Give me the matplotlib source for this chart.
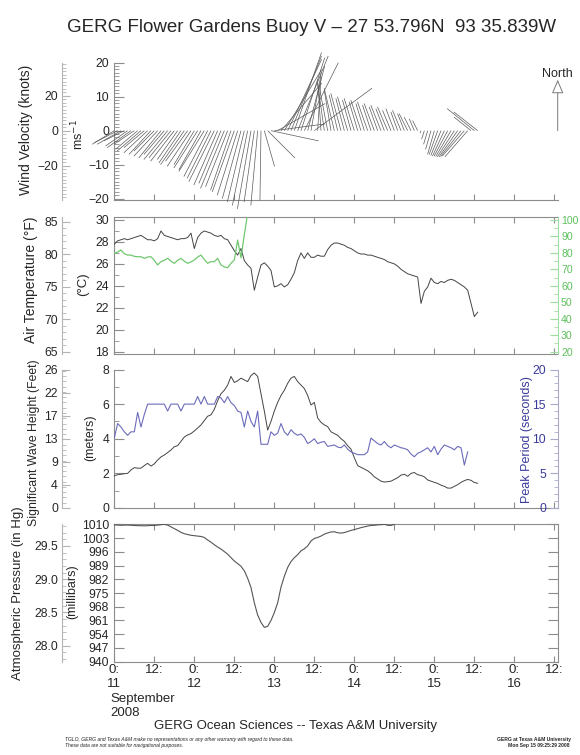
import numpy as np
import matplotlib
matplotlib.use("Agg")
import matplotlib.pyplot as plt
from matplotlib.collections import LineCollection
from matplotlib.ticker import MultipleLocator, FixedLocator, FixedFormatter, FormatStrFormatter

plt.rcParams['font.family'] = ['Liberation Sans', 'DejaVu Sans']

# ---------------- data (hours after 2008-09-11 00:00) ----------------
wind_hours = np.arange(0, 110)
wind_u = [
    -6.5, -6.8, -7.0, -6.0, -6.5, -7.0, -6.0, -6.5, -7.0, -6.0,
    -7.0, -6.5, -6.0, -7.0, -6.5, -6.0, -7.0, -6.5, -7.0, -6.0,
    -6.5, -7.0, -6.5, -7.0, -6.0, -7.0, -6.5, -7.5, -7.0, -7.0,
    -7.5, -7.0, -6.5, -7.0, -6.5, -6.0, -6.5, -6.0, -5.5, -5.0,
    -4.5, -4.0, -3.0, -2.0, -0.3, 3.0, 8.0, 14.0, 15.0, 14.0,
    12.0, 11.0, 10.0, 9.0, 8.0, 9.0, 7.0, 10.0, 5.0, 3.0,
    17.0, 1.0, -1.0, -2.0, -2.5, -2.0, -3.0, -2.5, -3.0, -2.5,
    -3.0, -2.5, -3.0, -2.5, -3.0, -2.5, -3.0, -2.5, -3.0, -2.5,
    -3.0, -2.5, -3.0, -2.5, -2.5, -2.0, -2.5, -2.0, -2.5, -2.0,
    -1.5, -1.5, -0.3, -0.8, -1.2, -1.6, -2.0, -2.5, -3.0, -3.5,
    -4.0, -4.5, -5.0, -5.5, -6.0, -6.5, -6.7, -5.0, -8.0, -7.0,
]
wind_v = [
    -4.0, -3.5, -4.0, -3.0, -4.5, -5.0, -4.0, -5.5, -6.0, -5.0,
    -6.5, -7.0, -6.0, -7.5, -8.0, -7.0, -8.5, -8.0, -9.0, -8.5,
    -9.5, -10.0, -9.0, -10.5, -10.0, -11.0, -11.5, -12.0, -13.5, -14.0,
    -15.0, -16.0, -15.5, -17.0, -16.5, -17.5, -18.0, -19.0, -20.0, -21.0,
    -22.0, -23.0, -21.0, -22.0, -20.5, -10.5, -8.0, -3.0, 2.0, 8.0,
    14.0, 18.0, 21.0, 22.0, 23.0, 22.0, 21.5, 20.0, 19.0, 17.0,
    12.5, 16.0, 15.0, 14.0, 13.0, 12.0, 12.5, 10.5, 11.0, 9.5,
    10.0, 9.0, 9.5, 8.5, 9.0, 8.0, 8.5, 7.5, 8.0, 7.0,
    7.5, 6.5, 7.0, 6.0, 6.5, 5.5, 6.0, 5.0, 5.0, 4.0,
    3.5, 3.0, -0.7, -2.5, -4.0, -5.5, -7.0, -7.0, -7.3, -7.5,
    -7.5, -7.6, -7.7, -7.7, -7.6, -7.5, -7.7, 4.0, 6.5, 5.5,
]

temp_hours = np.arange(0, 110)
air_temp_c = [
    27.8, 28.1, 28.2, 28.3, 28.2, 28.3, 28.4, 28.5, 28.6, 28.4,
    28.2, 28.2, 28.1, 28.3, 29.0, 28.6, 28.5, 28.4, 28.3, 28.2,
    28.3, 28.3, 28.4, 28.8, 27.4, 28.4, 28.8, 29.0, 28.9, 28.8,
    28.6, 28.5, 28.6, 28.3, 28.2, 27.7, 27.2, 26.8, 27.4, 26.3,
    25.9, 25.6, 23.6, 24.8, 25.9, 26.1, 25.8, 25.4, 23.9, 24.0,
    24.2, 23.9, 24.1, 24.6, 25.2, 26.3, 27.0, 26.5, 27.0, 26.6,
    26.6, 26.8, 26.7, 26.7, 27.3, 27.7, 27.9, 27.9, 27.8, 27.7,
    27.5, 27.4, 27.2, 27.0, 26.9, 26.9, 26.8, 26.8, 26.7, 26.6,
    26.5, 26.4, 26.2, 26.1, 26.0, 25.8, 25.5, 25.3, 25.1, 25.0,
    24.9, 24.8, 22.4, 23.5, 23.9, 24.7, 24.3, 24.2, 24.4, 24.3,
    24.5, 24.6, 24.5, 24.3, 24.1, 23.9, 23.6, 22.4, 21.2, 21.6,
]

rh_hours = np.arange(0, 41)
rel_humidity = [
    79.8, 80.5, 81.8, 79.5, 78.7, 78.7, 77.9, 77.7, 77.7, 76.7,
    77.5, 77.7, 75.5, 72.7, 74.7, 75.5, 76.7, 75.0, 73.7, 75.5,
    76.7, 75.0, 73.7, 74.5, 75.7, 77.5, 78.7, 76.0, 73.7, 74.7,
    74.7, 76.7, 72.7, 71.5, 71.0, 73.7, 75.7, 87.8, 77.0, 91.0,
    104.0,
]

wave_hours = np.arange(0, 110)
wave_height_m = [
    1.87, 1.92, 1.95, 1.98, 2.00, 2.20, 2.33, 2.30, 2.30, 2.45,
    2.58, 2.42, 2.55, 2.77, 2.95, 3.06, 3.20, 3.35, 3.54, 3.60,
    3.85, 4.10, 4.22, 4.30, 4.45, 4.62, 4.80, 5.05, 5.30, 5.38,
    5.70, 6.20, 6.60, 6.80, 7.10, 7.60, 7.25, 7.35, 7.50, 7.40,
    7.30, 7.65, 7.80, 7.60, 6.60, 5.60, 4.50, 5.00, 5.60, 6.10,
    6.50, 6.80, 7.20, 7.50, 7.60, 7.30, 7.10, 6.90, 6.50, 5.95,
    6.10, 5.20, 4.95, 4.80, 4.70, 4.40, 4.30, 4.20, 4.00, 3.85,
    3.60, 3.40, 2.90, 2.45, 2.35, 2.25, 2.15, 2.00, 1.80, 1.68,
    1.55, 1.50, 1.52, 1.55, 1.65, 1.75, 1.90, 1.95, 1.83, 2.00,
    2.05, 1.92, 1.88, 1.80, 1.62, 1.55, 1.48, 1.42, 1.32, 1.25,
    1.15, 1.15, 1.25, 1.35, 1.48, 1.58, 1.65, 1.60, 1.47, 1.43,
]

period_hours = np.arange(0, 107)
peak_period_s = [
    10.1, 12.2, 11.7, 11.0, 10.5, 11.0, 11.0, 13.8, 11.7, 13.5,
    15.0, 15.0, 15.0, 15.0, 15.0, 15.0, 14.0, 15.0, 15.0, 15.0,
    14.0, 15.0, 15.0, 15.0, 15.0, 16.1, 15.0, 16.1, 15.0, 15.0,
    15.0, 16.1, 15.9, 15.2, 16.1, 15.2, 14.8, 14.0, 13.8, 11.7,
    14.0, 12.5, 11.7, 14.0, 9.2, 9.2, 9.2, 11.0, 10.5, 10.8,
    12.2, 11.0, 10.5, 11.3, 10.8, 10.5, 10.7, 10.2, 9.3, 9.6,
    10.0, 9.3, 9.5, 9.6, 8.9, 9.0, 9.1, 8.8, 8.7, 9.1,
    8.5, 8.1, 7.9, 7.7, 7.7, 7.7, 8.1, 10.1, 9.7, 9.3,
    9.1, 9.6, 9.0, 8.7, 9.1, 8.9, 8.7, 8.6, 8.4, 7.8,
    7.4, 7.9, 8.1, 8.4, 8.7, 8.1, 8.9, 7.7, 8.5, 9.1,
    8.9, 8.7, 8.4, 8.9, 8.7, 6.2, 8.1,
]

pres_hours = np.arange(0, 85)
pressure_mb = [
    1009.7, 1009.6, 1009.5, 1009.6, 1009.6, 1009.5, 1009.4, 1009.3, 1009.3, 1009.2,
    1009.3, 1009.4, 1009.4, 1009.6, 1009.8, 1010.0, 1009.6, 1008.7, 1007.8, 1006.9,
    1005.9, 1005.2, 1004.8, 1004.4, 1004.2, 1004.0, 1003.8, 1003.3, 1002.0, 1000.9,
    999.6, 998.4, 997.4, 996.1, 994.8, 993.0, 991.3, 990.0, 988.6, 986.3,
    982.5, 977.8, 970.0, 963.8, 960.0, 957.5, 958.0, 961.0, 965.0, 970.0,
    978.0, 983.5, 988.0, 991.0, 993.0, 994.5, 996.5, 997.5, 999.0, 1001.5,
    1002.8, 1003.3, 1004.0, 1005.0, 1005.6, 1006.1, 1006.2, 1005.7, 1005.5, 1005.8,
    1006.3, 1006.9, 1007.3, 1007.8, 1008.3, 1008.7, 1009.1, 1009.4, 1009.5, 1009.7,
    1009.8, 1010.0, 1009.5, 1009.4, 1010.0,
]

xtick_hours = [0, 12, 24, 36, 48, 60, 72, 84, 96, 108, 120, 132]
xtick_labels = ['0:\n11', '12:', '0:\n12', '12:', '0:\n13', '12:',
                '0:\n14', '12:', '0:\n15', '12:', '0:\n16', '12:']
wind_ms_ticks = [-20, -10, 0, 10, 20]
wind_kt_ticks = [-20, 0, 20]
temp_c_ticks = [18, 20, 22, 24, 26, 28, 30]
temp_f_ticks = [65, 70, 75, 80, 85]
rh_ticks = [20, 30, 40, 50, 60, 70, 80, 90, 100]
wave_m_ticks = [0, 2, 4, 6, 8]
wave_ft_labels = ['0', '4', '9', '13', '17', '22', '26']
period_ticks = [0, 5, 10, 15, 20]
pres_mb_ticks = [940, 947, 954, 961, 968, 975, 982, 989, 996, 1003, 1010]
pres_in_ticks = [28.0, 28.5, 29.0, 29.5]

# ---------------- layout ----------------
W, H = 580.0, 755.0
fig = plt.figure(figsize=(W / 100, H / 100), dpi=100)


def rect(x0, y0, x1, y1):
    return [x0 / W, 1 - y1 / H, (x1 - x0) / W, (y1 - y0) / H]


def ftext(x, y, s, **kw):
    kw.setdefault('color', TXT)
    fig.text(x / W, 1 - y / H, s, **kw)


XL, XR = 114.3, 557.7
XLIM = (0, 133)
TXT = '#262626'
SPC = '#8c8c8c'
SPC2 = '#b4b4b4'
TFS = 8.8
OFFSET_PT = 52 * 0.72


def style_main(ax, top=False, right=False):
    for s in ax.spines.values():
        s.set_color(SPC)
        s.set_linewidth(0.8)
    ax.spines['top'].set_visible(top)
    ax.spines['right'].set_visible(right)
    ax.set_xlim(*XLIM)
    ax.xaxis.set_major_locator(FixedLocator(xtick_hours))
    ax.tick_params(axis='x', which='major', direction='in', length=4, width=0.8,
                   color=SPC, top=top, bottom=True, labelbottom=False, labeltop=False)
    ax.tick_params(axis='y', which='major', direction='in', length=7, width=0.8,
                   color=SPC, labelsize=TFS, labelcolor=TXT, pad=3.8,
                   left=True, right=right, labelright=False)
    ax.tick_params(axis='y', which='minor', direction='in', length=3.5, width=0.6,
                   color=SPC, left=True, right=False)


def offset_left(ax_main, ylim, major, minor):
    t = ax_main.twinx()
    t.set_ylim(*ylim)
    for s in ['top', 'right', 'bottom']:
        t.spines[s].set_visible(False)
    t.spines['left'].set_visible(True)
    t.spines['left'].set_position(('outward', OFFSET_PT))
    t.spines['left'].set_color(SPC2)
    t.spines['left'].set_linewidth(0.8)
    t.yaxis.tick_left()
    t.yaxis.set_major_locator(FixedLocator(major))
    if minor:
        t.yaxis.set_minor_locator(MultipleLocator(minor))
    t.tick_params(axis='y', which='major', direction='in', length=6, width=0.8,
                  color=SPC2, labelsize=TFS, labelcolor=TXT, pad=3.1)
    t.tick_params(axis='y', which='minor', direction='in', length=3, width=0.6,
                  color=SPC2)
    return t


# ---------------- wind panel ----------------
ax_w = fig.add_axes(rect(XL, 62.7, XR, 200))
ylim_w = (-20.4, 20.0)
ax_k = offset_left(ax_w, (ylim_w[0] * 1.94384, ylim_w[1] * 1.94384), wind_kt_ticks, 2)
style_main(ax_w)
ax_w.set_ylim(*ylim_w)
ax_w.yaxis.set_major_locator(FixedLocator(wind_ms_ticks))
ax_w.yaxis.set_minor_locator(MultipleLocator(1))

pos = ax_w.get_position()
px_per_hour = pos.width * W / (XLIM[1] - XLIM[0])
px_per_ms = pos.height * H / (ylim_w[1] - ylim_w[0])
kx = px_per_ms / px_per_hour
segs = [[(t, 0.0), (t + u * kx, v)] for t, u, v in zip(wind_hours, wind_u, wind_v)]
ax_w.add_collection(LineCollection(segs, colors='#5a5a5a', linewidths=0.5,
                                   clip_on=False, zorder=3))
ax_w.annotate('', xy=(XLIM[1], 15.0), xytext=(XLIM[1], 0),
              arrowprops=dict(arrowstyle='-|>,head_length=0.85,head_width=0.36',
                              fc='white', ec='#7a7a7a', lw=0.7, shrinkA=0, shrinkB=0),
              annotation_clip=False)
ax_w.text(XLIM[1], 16.8, 'North', ha='center', va='center', fontsize=9,
          color=TXT, clip_on=False)

# ---------------- temperature panel ----------------
ax_t = fig.add_axes(rect(XL, 216.7, XR, 354))
ylim_t = (17.79, 30.3)
ax_f = offset_left(ax_t, (64.65, 85.8), temp_f_ticks, 1)
ax_rh = ax_t.twinx()
style_main(ax_t, top=True)
ax_t.set_ylim(*ylim_t)
ax_t.yaxis.set_major_locator(FixedLocator(temp_c_ticks))
ax_t.yaxis.set_minor_locator(MultipleLocator(1))
ax_t.plot(temp_hours, air_temp_c, color='#444444', lw=0.7, zorder=4)

GREEN = '#5cbf5c'
ax_rh.set_ylim(20 + (ylim_t[0] - 18) * 80 / 12, 100 + (ylim_t[1] - 30) * 80 / 12)
for s in ['top', 'left', 'bottom']:
    ax_rh.spines[s].set_visible(False)
ax_rh.spines['right'].set_color('#9fdc9f')
ax_rh.spines['right'].set_linewidth(0.8)
ax_rh.yaxis.set_major_locator(FixedLocator(rh_ticks))
ax_rh.yaxis.set_minor_locator(MultipleLocator(5))
ax_rh.tick_params(axis='y', which='major', direction='in', length=6, width=0.8,
                  color='#9fdc9f', labelsize=7.6, labelcolor=GREEN, pad=2.4)
ax_rh.tick_params(axis='y', which='minor', direction='in', length=3, width=0.6,
                  color='#9fdc9f')
ax_rh.plot(rh_hours, rel_humidity, color='#70c870', lw=0.9, zorder=2)

# ---------------- wave panel ----------------
ax_wv = fig.add_axes(rect(XL, 369.5, XR, 508))
ft_max = 8 * 3.28084
ax_ft = offset_left(ax_wv, (0, ft_max), list(np.linspace(0, ft_max, 7)), 1)
ax_ft.yaxis.set_major_formatter(FixedFormatter(wave_ft_labels))
ax_pp = ax_wv.twinx()
style_main(ax_wv)
ax_wv.set_ylim(0, 8)
ax_wv.yaxis.set_major_locator(FixedLocator(wave_m_ticks))
ax_wv.yaxis.set_minor_locator(MultipleLocator(1))
ax_wv.plot(wave_hours, wave_height_m, color='#444444', lw=0.7, zorder=4)

BLUE = '#3b3b9b'
ax_pp.set_ylim(0, 20)
for s in ['top', 'left', 'bottom']:
    ax_pp.spines[s].set_visible(False)
ax_pp.spines['right'].set_color('#aaaacc')
ax_pp.spines['right'].set_linewidth(0.8)
ax_pp.yaxis.set_major_locator(FixedLocator(period_ticks))
ax_pp.yaxis.set_minor_locator(MultipleLocator(1))
ax_pp.tick_params(axis='y', which='major', direction='in', length=6, width=0.8,
                  color='#aaaacc', labelsize=TFS, labelcolor=BLUE, pad=-8.4)
ax_pp.tick_params(axis='y', which='minor', direction='in', length=3, width=0.6,
                  color='#aaaacc')
for lbl in ax_pp.get_yticklabels():
    lbl.set_horizontalalignment('right')
ax_pp.plot(period_hours, peak_period_s, color='#6b6bbb', lw=0.8, zorder=2)

# ---------------- pressure panel ----------------
ax_pr = fig.add_axes(rect(XL, 524.3, XR, 661.7))
ax_hg = offset_left(ax_pr, (940 / 33.8639, 1010 / 33.8639), pres_in_ticks, 0.1)
ax_hg.yaxis.set_major_formatter(FormatStrFormatter('%.1f'))
style_main(ax_pr, top=True, right=True)
ax_pr.set_ylim(940, 1010)
ax_pr.yaxis.set_major_locator(FixedLocator(pres_mb_ticks))
ax_pr.tick_params(axis='y', which='major', right=True, labelright=False)
ax_pr.plot(pres_hours, pressure_mb, color='#555555', lw=0.8, zorder=4)
ax_pr.set_xticklabels(xtick_labels)
ax_pr.tick_params(axis='x', labelbottom=True, labelsize=9.5, labelcolor=TXT, pad=1.5)
for lbl in ax_pr.get_xticklabels():
    lbl.set_linespacing(1.2)

# ---------------- texts ----------------
ftext(312, 27, 'GERG Flower Gardens Buoy V \u2013 27 53.796N  93 35.839W',
      ha='center', va='center', fontsize=13.5)
ftext(26, 130, 'Wind Velocity (knots)', rotation=90, ha='center', va='center', fontsize=10)
ftext(78, 135, 'ms$^{-1}$', rotation=90, ha='center', va='center', fontsize=9)
ftext(31, 280, 'Air Temperature (\u00b0F)', rotation=90, ha='center', va='center', fontsize=10)
ftext(83, 284, '(\u00b0C)', rotation=90, ha='center', va='center', fontsize=9.5)
ftext(34, 443, 'Significant Wave Height (Feet)', rotation=90, ha='center', va='center',
      fontsize=8.8)
ftext(90, 438, '(meters)', rotation=90, ha='center', va='center', fontsize=9)
ftext(527, 440, 'Peak Period (seconds)', rotation=90, ha='center', va='center',
      fontsize=9, color=BLUE)
ftext(18, 593, 'Atmospheric Pressure (in Hg)', rotation=90, ha='center', va='center',
      fontsize=9.5)
ftext(72, 592, '(millibars)', rotation=90, ha='center', va='center', fontsize=9)
ftext(110, 706, 'September\n2008', ha='left', va='center', fontsize=9.5, linespacing=1.2)
ftext(296, 726, 'GERG Ocean Sciences -- Texas A&M University', ha='center', va='center',
      fontsize=9.5)
ftext(65, 739, 'TGLO, GERG and Texas A&M make no representations or any other warranty '
      'with regard to these data.', ha='left', va='center', fontsize=3.6, style='italic')
ftext(65, 745, 'These data are not suitable for navigational purposes.', ha='left',
      va='center', fontsize=3.6, style='italic')
ftext(571, 740, 'GERG at Texas A&M University', ha='right', va='center', fontsize=3.6,
      weight='bold')
ftext(569, 746, 'Mon Sep 15 09:25:29 2008', ha='right', va='center', fontsize=3.6,
      weight='bold')

fig.savefig('out.png', dpi=100)
